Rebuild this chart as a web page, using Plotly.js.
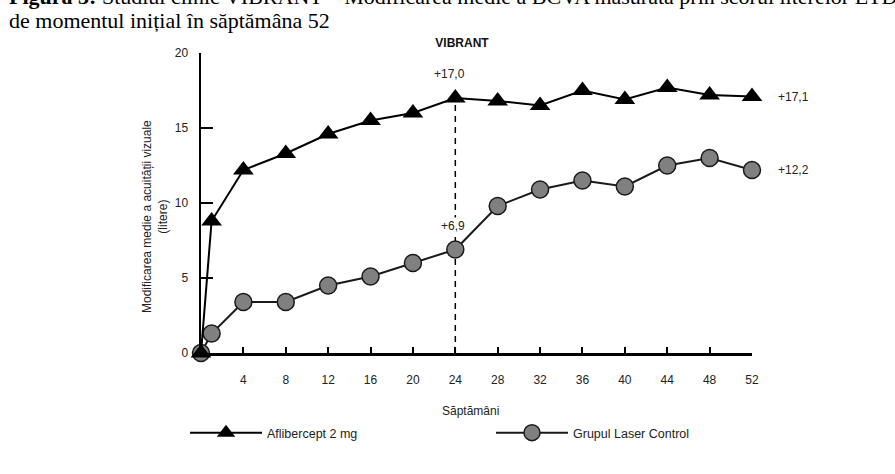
<!DOCTYPE html>
<html>
<head>
<meta charset="utf-8">
<script src="https://cdn.plot.ly/plotly-3.0.1.min.js"></script>
<style>
  html, body { margin: 0; padding: 0; background: #fff; }
  #chart { width: 895px; height: 474px; }
</style>
</head>
<body>
<div id="chart"></div>
<script>
// Mean change in BCVA (ETDRS letters) from baseline to week 52, VIBRANT study
const weeks = [0, 1, 4, 8, 12, 16, 20, 24, 28, 32, 36, 40, 44, 48, 52];
const aflibercept = [0, 8.8, 12.2, 13.3, 14.6, 15.5, 16.0, 17.0, 16.8, 16.5, 17.5, 16.9, 17.7, 17.2, 17.1];
const laser = [0, 1.3, 3.4, 3.4, 4.5, 5.1, 6.0, 6.9, 9.8, 10.9, 11.5, 11.1, 12.5, 13.0, 12.2];
const xTickVals = [4, 8, 12, 16, 20, 24, 28, 32, 36, 40, 44, 48, 52];
const yTickVals = [0, 5, 10, 15, 20];
const seriesNames = ['Aflibercept 2 mg', 'Grupul Laser Control'];
const captionLine1 = '<b>Figura 3:</b> Studiul clinic VIBRANT – Modificarea medie a BCVA măsurată prin scorul literelor ETDRS față';
const captionLine2 = 'de momentul inițial în săptămâna 52';
const chartTitle = 'VIBRANT';
const xTitle = 'Săptămâni';
const yTitle = 'Modificarea medie a acuității vizuale<br>(litere)';
const markWeek = 24;

const W = 895, H = 474;
const M = { l: 201, r: 143, t: 53, b: 121 };
const plotW = W - M.l - M.r, plotH = H - M.t - M.b;
// pixel -> paper helpers for text placed outside the plot area
const px = v => (v - M.l) / plotW;
const py = v => (H - M.b - v) / plotH;

const narrow = 'Liberation Sans Narrow, Arial Narrow, Liberation Sans, Arial, sans-serif';
const serif = 'Liberation Serif, Times New Roman, serif';
const fmt = v => '+' + v.toFixed(1).replace('.', ',');

const iMark = weeks.indexOf(markWeek);
const iLast = weeks.length - 1;

const traces = [
  {
    x: weeks, y: laser, name: seriesNames[1], type: 'scatter', mode: 'lines+markers',
    line: { color: '#1a1a1a', width: 2 },
    marker: { symbol: 'circle', size: 17, color: '#808080', line: { color: '#1a1a1a', width: 1.5 } },
    cliponaxis: false, legend: 'legend2'
  },
  {
    x: weeks, y: aflibercept, name: seriesNames[0], type: 'scatter', mode: 'lines+markers',
    line: { color: '#000', width: 2 },
    marker: { symbol: 'triangle-up', size: 18, color: '#000', line: { color: '#000', width: 0 } },
    cliponaxis: false, legend: 'legend'
  }
];

const annotations = [
  { text: captionLine1, xref: 'paper', yref: 'paper', x: px(7), y: py(-4), xanchor: 'left', yanchor: 'middle',
    showarrow: false, font: { family: serif, size: 22, color: '#000' } },
  { text: captionLine2, xref: 'paper', yref: 'paper', x: px(7), y: py(21), xanchor: 'left', yanchor: 'middle',
    showarrow: false, font: { family: serif, size: 22, color: '#000' } },
  { text: yTitle, xref: 'paper', yref: 'paper', x: px(155), y: py(217), xanchor: 'center', yanchor: 'middle',
    textangle: -90, showarrow: false, font: { family: narrow, size: 12, color: '#222' } },
  { text: xTitle, xref: 'paper', yref: 'paper', x: px(470), y: py(411), xanchor: 'center', yanchor: 'middle',
    showarrow: false, font: { family: narrow, size: 12, color: '#222' } },
  { text: fmt(aflibercept[iMark]), x: weeks[iMark], y: aflibercept[iMark], yshift: 24, xshift: -6,
    showarrow: false, font: { family: narrow, size: 12, color: '#222' } },
  { text: fmt(laser[iMark]), x: weeks[iMark], y: laser[iMark], yshift: 24, xshift: -2,
    bgcolor: '#fff', borderpad: 1,
    showarrow: false, font: { family: narrow, size: 12, color: '#222' } },
  { text: fmt(aflibercept[iLast]), x: weeks[iLast], y: aflibercept[iLast], xshift: 24, xanchor: 'left',
    showarrow: false, font: { family: narrow, size: 12, color: '#222' } },
  { text: fmt(laser[iLast]), x: weeks[iLast], y: laser[iLast], xshift: 24, xanchor: 'left',
    showarrow: false, font: { family: narrow, size: 12, color: '#222' } }
];

const legendStyle = {
  orientation: 'h', xref: 'container', yref: 'container', xanchor: 'left', yanchor: 'middle',
  y: 1 - 433 / H, itemwidth: 72,
  font: { family: narrow, size: 12.5, color: '#222' }, bgcolor: 'rgba(0,0,0,0)'
};

const layout = {
  width: W, height: H,
  margin: M,
  paper_bgcolor: '#fff', plot_bgcolor: '#fff',
  font: { family: narrow, size: 12, color: '#222' },
  title: {
    text: '<b>' + chartTitle + '</b>', xref: 'container', yref: 'container',
    x: 462 / W, xanchor: 'center', y: 1 - 43 / H, yanchor: 'middle',
    font: { family: 'Liberation Sans, Arial, sans-serif', size: 12, color: '#111' }
  },
  xaxis: {
    range: [0, 52], tickvals: xTickVals, ticks: 'inside', ticklen: 6, tickwidth: 2, tickcolor: '#000',
    showline: true, linecolor: '#000', linewidth: 2.5, showgrid: false, zeroline: false,
    ticklabelstandoff: 14, tickfont: { family: narrow, size: 12, color: '#222' }, fixedrange: true
  },
  yaxis: {
    range: [0, 20], tickvals: yTickVals, ticks: 'inside', ticklen: 12, tickwidth: 2, tickcolor: '#000',
    showline: true, linecolor: '#000', linewidth: 2.5, showgrid: false, zeroline: false,
    ticklabelstandoff: 8, tickfont: { family: narrow, size: 12, color: '#222' }, fixedrange: true
  },
  shapes: [
    { type: 'line', xref: 'x', yref: 'y', x0: weeks[iMark], x1: weeks[iMark], y0: 0, y1: aflibercept[iMark],
      line: { color: '#000', width: 1.5, dash: '6px,5px' }, layer: 'below' }
  ],
  annotations: annotations,
  showlegend: true,
  legend: Object.assign({}, legendStyle, { x: 185 / W }),
  legend2: Object.assign({}, legendStyle, { x: 491 / W })
};

Plotly.newPlot('chart', traces, layout, { displayModeBar: false, staticPlot: true });
</script>
</body>
</html>
